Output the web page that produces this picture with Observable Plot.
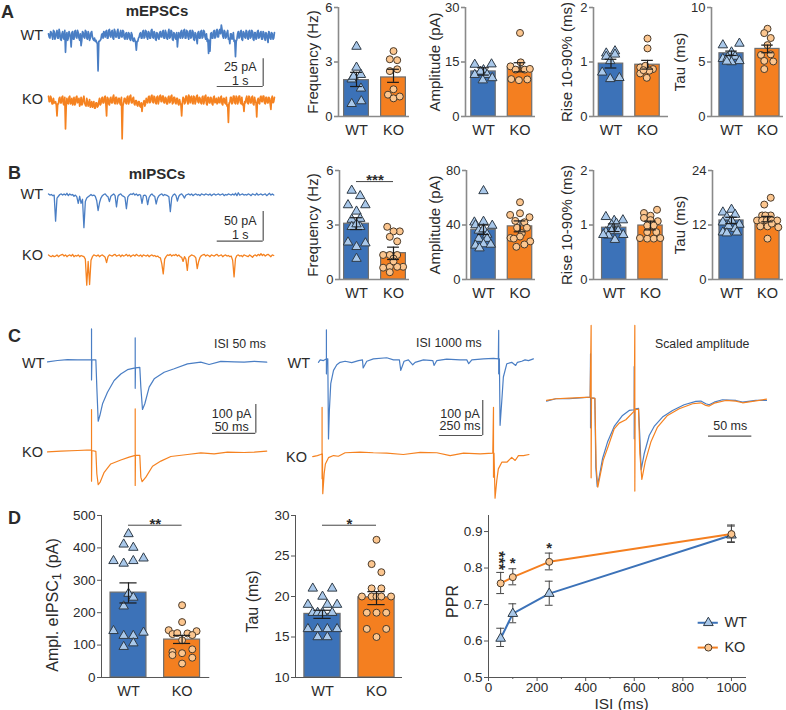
<!DOCTYPE html>
<html><head><meta charset="utf-8">
<script src="https://cdn.jsdelivr.net/npm/d3@7"></script>
<script src="https://cdn.jsdelivr.net/npm/@observablehq/plot@0.6"></script>
<style>
html,body{margin:0;padding:0;background:#fff}
#fig{position:relative;width:786px;height:710px;overflow:hidden;font-family:"Liberation Sans",Arial,sans-serif;color:#2b2b2b}
#fig svg{position:absolute;overflow:visible;background:transparent;max-width:none}
.t{position:absolute;white-space:nowrap;line-height:1}
</style></head><body><div id="fig"></div>
<script>
// ---- colours
const blue="#3c72b8", orange="#f47f20", lineBlue="#4a7ec4", lineOrange="#f58220", lightBlue="#a9c8ea", lightOrange="#fcc68f";
const groups=["WT","KO"];

// ---- spontaneous current traces (pA relative to baseline, evenly sampled over the sweep)
const mEPSC_WT_odd=[1,-3,2,-4,3,-2,4,-3,2,-5, 3,-4,-16,2,-3,1,-11,3,-4,4, -3,2,-5,-10,3,-2,4,-3,3,-5, 2,-2,-5,-6,-7,-33,-6,-4,1,3,
-2,4,-3,5,-2,4,-4,3,-2,5, -3,4,-2,3,-4,2,-3,1,-5,0, -6,-5,-14,-6,-2,2,-3,4,-2,3, -4,2,-3,5,-3,2,-5,1,-4,3,
-2,4,-3,2,-4,5,-2,3,-5,1, -4,-11,2,-3,4,-2,5,-3,3,-4, 4,-2,3,-5,1,-8,3,-3,4,-2, 3,-4,-6,-17,-15,2,-3,4,-2,5,
-2,5,9,-1,4,-3,2,-4,-8,1, -3,-6,-20,-4,3,-2,4,-5,2,-3, 3,-4,4,-2,3,-5,2,-3,4,-2, 3,-4,2,-5,1,-7,2,-4,1,-3];
const mEPSC_WT_even=[-2,3,-1,4,-4,2,-3,5,-4,1, -3,4,-1,-5,3,-2,2,-4,3,-2, 4,-3,1,-5,2,-3,3,-4,1,-3, 3,-4,-3,-5,-8,-6,-5,0,-3,2,
3,-3,4,-1,3,-3,5,-2,3,-3, 2,-2,4,-3,1,-4,2,-4,2,-5, -3,-7,-6,-3,1,-3,3,-3,4,-2, 3,-3,4,-2,3,-4,2,-3,2,-2,
3,-3,4,-3,2,-3,4,-4,2,-3, 2,-3,-1,3,-3,4,-3,4,-2,3, -3,4,-4,2,-4,2,-3,3,-3,4, -2,1,-4,-5,1,-3,3,-3,4,-2,
4,1,5,-3,3,-2,4,-3,1,-4, 2,-5,-6,1,-3,3,-4,3,-2,4, -3,3,-3,4,-4,2,-4,3,-3,2, -4,3,-3,2,-4,3,-3,2,-4,2];
const mEPSC_KO_odd=[3,-2,1,-4,-3,-2,-15,-4,2,-3, 3,-5,-27,1,-4,3,-3,-5,2,-4, 3,-2,-6,2,-4,3,-5,1,-6,0, -5,-7,-2,-8,-3,-6,1,-4,2,-3,
3,-15,1,-5,2,-3,4,-4,2,-3, 1,-5,-36,-3,1,-4,3,-2,4,-3, 2,-5,-1,-6,-2,-7,-11,-3,-6,1, -3,3,-2,4,-3,2,-4,3,-1,4,
-2,3,-3,1,-4,3,-2,4,-3,2, -4,1,-5,-3,-15,2,-4,3,-2,4, -3,3,-4,2,-2,4,-3,1,-4,3, -2,4,-5,2,-3,1,-5,3,-2,-4,
2,-3,3,-5,1,-4,-6,-21,-3,2, -3,3,-4,2,-2,3,-4,-5,-11,-3, 3,-4,2,-3,3,-5,-2,-16,1,-4, 3,-2,3,-4,2,-3,1,-9,3,-2];
const mEPSC_KO_even=[-2,3,-4,1,-3,-5,-4,1,-3,2, -4,2,-6,-3,2,-4,1,-3,-5,2, -3,1,-4,-5,1,-3,-6,-2,-4,-7, -2,-5,-8,-3,-7,-2,-5,1,-3,2,
-4,2,-4,1,-3,2,-3,2,-4,1, -4,2,-6,1,-3,2,-4,3,-3,1, -4,-1,-5,-2,-6,-3,-5,-1,-4,-2, 2,-3,3,-2,3,-3,2,-4,3,-2,
3,-3,2,-4,2,-3,3,-4,2,-3, 1,-4,0,-5,-3,1,-3,3,-4,2, 2,-3,3,-4,3,-2,2,-3,2,-4, 3,-4,2,-3,2,-4,2,-3,1,-3,
-2,2,-4,1,-3,2,-5,-3,2,-4, 3,-3,3,-4,3,-3,2,-4,-2,1, -3,3,-3,2,-4,2,-3,-1,-3,2, -2,3,-3,2,-3,2,-4,1,-3,2];
const mIPSC_WT=[1,-1,0,-2,-1,-45,-6,-3,0,1, -1,1,-1,2,-2,1,-1,0,-3,-1, -4,-15,-3,-15,-8,-56,-12,-6,-4,-2, 0,-2,-1,-3,-10,-27,-14,-6,-2,0,
1,-2,-4,-12,-3,-1,1,-2,-21,-3, 0,1,-2,-3,-5,-24,-4,-1,1,0, 2,-1,1,-2,0,-1,-15,-2,-1,-3, -17,-5,-1,1,-2,-3,-16,-6,-2,0,
1,-2,0,-1,-2,-4,-29,-5,-1,1, -2,-11,-3,0,1,-2,-6,-1,0,1, -1,1,-2,0,1,-1,0,-2,1,0, -1,1,0,-1,1,-2,0,1,-1,0,
1,-1,0,1,-2,0,-1,1,0,-1, 1,-1,2,-2,3,-1,0,1,-1,0, -1,1,0,-2,1,0,-1,2,-1,0, 1,-1,0,1,-2,0,2,-1,1,-1];
const mIPSC_KO=[1,-1,-2,0,-2,-1,1,-2,0,1, 2,-1,1,-2,0,1,-1,2,-2,0, -1,1,-2,0,-1,-2,-6,-50,-10,-49, -8,-2,1,0,-1,1,-2,0,1,-1,
-3,-12,-2,1,0,-1,1,2,-1,0, 1,-2,1,-1,0,2,-1,1,-2,0, 1,-1,2,0,-1,1,-2,1,0,-1, 1,-2,0,1,-1,0,-2,-1,-3,-4,
-14,-31,-6,-2,1,0,2,-1,1,0, 2,-1,1,-2,-3,-10,-2,-6,-25,-3, -1,1,0,-1,-4,-22,-10,-3,0,1, 2,-1,1,0,-2,1,0,-1,1,2,
-1,0,1,-2,0,1,-1,0,-2,-1, -8,-36,-5,0,1,-1,0,-2,1,0, -1,-2,1,-1,-3,0,1,-1,2,0, 3,0,2,-1,1,2,0,-2,1,0];

// ---- evoked traces: [time ms, current pA]
const isi50_WT=[[0,-7],[11.5,-2],[23,1],[34.6,0],[50.8,0],[50.8,108],[50.8,-70],[51.2,0],[55.8,0],[56.9,-95],[58.5,-214],[60.4,-194],[63.5,-153],[69.2,-113],[76.9,-72],[84.6,-49],[92.3,-34],[101.2,-28],[101.2,77],[101.2,-99],[101.5,-28],[106.5,-26],[107.7,-95],[109.6,-173],[112.3,-153],[117.3,-95],[123.1,-66],[134.6,-43],[146.2,-31],[161.5,-14],[176.9,-8],[186.5,-16],[200,-5],[215.4,-7],[226.9,-8],[238.5,-5],[253,-8]];
const isi50_KO=[[0,-5],[15.4,-2],[34.6,0],[50.8,2],[50.8,143],[50.8,-107],[51.2,0],[55.8,-3],[56.9,-81],[58.5,-119],[60.8,-110],[65.4,-76],[73,-47],[84.6,-33],[94.2,-23],[101.2,-17],[101.2,145],[101.2,-122],[101.5,-17],[106.5,-17],[107.7,-93],[109.2,-109],[113.5,-93],[121.2,-55],[130.8,-37],[142.3,-21],[161.5,-14],[176.9,-8],[192.3,-12],[207.7,-6],[226.9,-7],[238.5,-6],[253,-2]];
const isi1000_WT=[[0,-10],[10,-3],[29,-5],[42,-1],[46,0],[46,83],[46,-43],[48,0],[54,0],[58,-229],[63,-148],[71,-71],[87,-33],[106,-17],[125,-10],[154,-7],[192,-11],[231,-5],[254,-3],[258,-26],[279,-7],[317,0],[394,3],[433,-3],[467,-3],[475,-33],[494,-7],[519,-3],[544,-17],[558,-10],[606,-3],[660,-5],[667,-19],[683,-5],[740,-1],[817,-3],[856,-3],[867,-14],[885,-3],[952,0],[1010,1],[1038,0],[1040,81],[1040,-43],[1044,0],[1048,-190],[1058,-119],[1067,-52],[1087,-14],[1115,-10],[1138,-19],[1148,-10],[1173,-7],[1192,-3],[1212,-5],[1240,0]];
const isi1000_KO=[[-33,-8],[-6,-5],[13,-2],[21,0],[21,133],[21,-71],[23,0],[25,-114],[33,-57],[40,-29],[58,-11],[87,-5],[115,-7],[154,3],[240,5],[317,3],[394,2],[490,-2],[587,4],[683,3],[760,-5],[837,2],[933,0],[1006,2],[1010,133],[1010,-67],[1013,2],[1019,-127],[1029,-76],[1038,-43],[1058,-24],[1087,-24],[1115,-10],[1135,-19],[1154,-5],[1183,-5],[1215,-2]];
const scaled_WT=[[0,-3.7],[10.8,-1.1],[26.2,-1.1],[50.4,0.7],[50.8,49.3],[50.8,-33.6],[51.2,0],[55.8,-0.7],[56.9,-77.6],[58.5,-99.3],[60.8,-88.8],[64.6,-68.3],[70.4,-49.6],[78.1,-32.1],[87.7,-19.8],[95.4,-14.2],[101.2,-13.4],[101.2,35],[101.2,-45.9],[101.5,-12.7],[106.2,-11.9],[107.7,-44],[109.2,-80.6],[112.7,-62.7],[118.5,-42.2],[124.2,-32.1],[133.8,-21.6],[145.4,-14.2],[158.8,-7.8],[172.3,-4.1],[178.1,-3.7],[183.8,-6.7],[187.7,-7.8],[193.5,-4.9],[203,-2.2],[218.5,-3],[226.2,-4.9],[241.5,-3],[253.8,-3]];
const scaled_KO=[[0,-3],[10.8,-1.1],[26.2,-0.4],[50.4,0.7],[51.5,81],[51.5,-89.6],[51.9,0],[55.8,-0.7],[57.3,-77.6],[59.2,-100],[61.5,-88.8],[65.4,-70.1],[71.5,-53.4],[78.1,-34.7],[83.8,-28.4],[91.5,-24.6],[101.2,-14.9],[101.9,81],[101.9,-104.5],[102.3,-13.4],[106.2,-12.7],[107.7,-62.7],[110,-91.4],[113.8,-72],[120.4,-49.6],[128.1,-32.8],[139.6,-19.8],[153.1,-12.3],[168.5,-6.7],[178.1,-5.6],[183.8,-8.6],[187.7,-9.3],[193.5,-6],[206.9,-3],[218.5,-3.7],[226.2,-5.6],[237.7,-4.1],[253.8,-1.5]];

// ---- panel A points: [offset from bar centre, value]
const aFreqWT=[[0,3.85],[0,2.7],[.12,2.3],[-.13,2.05],[-.08,2.2],[.12,1.55],[-.13,.7],[.13,.85]];
const aFreqKO=[[0,3.6],[-.1,3.15],[.1,3.1],[-.1,2.5],[.1,2.6],[0,1.5],[-.15,1.2],[0,1],[.17,1.1]];
const aAmpWT=[[-.24,14.3],[.22,14.4],[0,12.8],[-.08,12.4],[-.24,11.5],[.1,11.5],[.24,10.6],[-.02,10]];
const aAmpKO=[[0,23],[-.26,13.8],[.02,14.9],[-.12,12.9],[.13,12.9],[.27,13.1],[-.24,10.3],[-.03,10],[.2,10.2]];
const aRiseWT=[[-.13,1.16],[.11,1.2],[-.13,1.1],[-.02,1.02],[.11,1.14],[-.24,.81],[-.02,.69],[.23,.71]];
const aRiseKO=[[0,1.43],[0,1.25],[-.2,.9],[-.06,.93],[.15,.87],[-.2,.79],[-.02,.71],[.05,.84],[-.11,.85]];
const aTauWT=[[-.24,6.55],[.22,6.7],[0,5.9],[-.24,5.3],[-.11,5.4],[.1,5.5],[.22,5.1],[0,5],[-.13,5.05]];
const aTauKO=[[0,8.05],[-.09,7.65],[.09,7.2],[0,6.55],[-.18,5.65],[.09,5.7],[-.09,5.1],[.16,5.05],[-.09,4.35]];
// ---- panel B points
const bFreqWT=[[-.13,4.9],[.1,4.6],[-.23,4.1],[.24,4.1],[0,3.75],[-.13,3.3],[.1,3.35],[-.13,2.9],[.1,2.9],[0,3.05],[-.23,2.05],[.24,2],[0,1.8],[0,1.15]];
const bFreqKO=[[-.17,2.9],[.17,2.65],[0,2.65],[-.1,2.35],[.1,2.1],[-.1,1.35],[-.28,1.35],[.1,1.35],[0,1.15],[-.28,.65],[-.1,.7],[.26,.7],[.1,.7],[-.1,.4],[0,1]];
const bAmpWT=[[0,65],[-.25,42],[0,42.5],[.24,39.6],[-.22,40],[-.13,36],[0,37],[.1,33],[-.13,30],[.1,30],[-.22,25],[0,26],[.2,25.7],[-.11,23]];
const bAmpKO=[[0,56.7],[-.27,47.4],[0,48.6],[.26,45.7],[-.13,43],[.12,42],[-.08,38],[.05,34],[.19,38],[-.26,30.5],[0,31.5],[.28,28],[.12,25.7],[-.1,24],[-.17,30]];
const bRiseWT=[[-.23,1.15],[.24,1.09],[0,1.08],[-.07,1],[.06,1.03],[-.23,.87],[-.07,.89],[.11,.89],[.25,.82],[-.16,.81],[.02,.73],[-.3,.82]];
const bRiseKO=[[-.18,1.22],[.18,1.28],[0,1.17],[-.18,1.13],[0,1.09],[.2,1.07],[-.09,.99],[.09,.99],[-.29,.76],[-.09,.75],[.09,.75],[.27,.76],[-.09,.87],[.16,.87]];
const bTauWT=[[-.24,14.8],[0,15.4],[.1,14.3],[-.13,13.7],[-.24,12.6],[0,13],[.22,12.1],[-.08,11.8],[.1,11.2],[-.24,10.4],[-.13,10.2],[.15,10.4]];
const bTauKO=[[.09,18],[-.09,16.5],[-.15,14.1],[.09,14.1],[-.06,14.1],[-.29,13],[-.15,13],[-.02,13],[.12,13],[.27,13],[-.2,11.7],[0,11.7],[.12,12.3],[.3,11.5],[0,9]];
// ---- panel D points
const dAmplWT=[[0,443],[-.09,411],[.09,401],[-.28,360],[-.09,352],[.09,360],[.28,368],[0,259],[.09,247],[-.09,220],[-.28,144],[.28,139],[-.09,129],[.09,129],[.09,106],[-.09,95]];
const dAmplKO=[[0,223],[0,171],[-.25,146],[.27,143],[-.18,134],[-.09,137],[.1,136],[.19,131],[0,115],[.19,87],[-.18,79],[0,75],[-.18,69],[.19,61],[0,43]];
const dTauWT=[[-.18,21],[.18,21],[0,20],[-.27,19],[.09,19],[.27,19],[-.18,18],[-.09,18],[0,18],[.18,18],[-.27,16],[-.09,16],[.09,16],[.27,16],[-.09,15],[.09,15]];
const dTauKO=[[0,27],[-.09,24],[.09,23],[-.09,21],[.09,21],[-.27,20],[-.09,20],[0,20],[.09,20],[.27,20],[-.18,18],[0,18],[.18,18],[-.18,16],[.18,16],[0,15]];
// ---- paired-pulse ratio
const isi=[50,100,250,1000];
const pprWT=[.607,.675,.73,.89], pprWTlo=[.585,.65,.698,.872], pprWThi=[.635,.702,.764,.918];
const pprKO=[.758,.775,.817,.893], pprKOlo=[.73,.754,.795,.87], pprKOhi=[.788,.798,.841,.915];
const pprStars=[[100,.817,"*"],[250,.858,"*"]];
const pprStack=[[50,.826,"***"]];

const fig=document.getElementById("fig");
const font='"Liberation Sans",Arial,sans-serif', ink="#2b2b2b";

function place(plot,left,top){plot.style.left=left+"px";plot.style.top=top+"px";fig.appendChild(plot);}
function label(text,x,y,size,opts={}){
  const d=document.createElement("div");d.className="t";d.textContent=text;
  d.style.fontSize=size+"px";d.style.top=(y-size/2)+"px";
  if(opts.bold)d.style.fontWeight="bold";
  if(opts.anchor==="end"){d.style.right=(786-x)+"px";}
  else if(opts.anchor==="middle"){d.style.left=x+"px";d.style.transform="translateX(-50%)";}
  else d.style.left=x+"px";
  fig.appendChild(d);
}

function barPanel(p){
  const mL=50,mT=10,mB=32,h=p.base-p.top,w=p.end-p.axis;
  const unit=p.ko-p.wt;
  const x0=(p.axis-p.wt)/unit,x1=(p.end-p.wt)/unit;
  const y0=p.dom[0];
  const pts=(arr,g)=>arr.map(([dx,v])=>({x:g+dx,v}));
  const c=p.d?{ax:"#555",w:1}:{ax:"#8a8a8a",w:1.6};
  const marks=[
    Plot.rect(groups,{x1:(d,i)=>i-.335,x2:(d,i)=>i+.335,y1:()=>y0,y2:(d,i)=>p.mean[i],fill:(d,i)=>i?orange:blue,stroke:"#6e6e6e",strokeWidth:1.2}),
    Plot.dot(pts(p.wtPts,0),{x:"x",y:"v",symbol:"triangle",r:3.5,fill:lightBlue,stroke:"#2f3b47",strokeWidth:1}),
    Plot.dot(pts(p.koPts,1),{x:"x",y:"v",r:3.5,fill:lightOrange,stroke:"#4a3a2a",strokeWidth:1}),
    Plot.ruleX([0,1],{x:d=>d,y1:d=>p.lo[d],y2:d=>p.hi[d],stroke:"#1c1c1c",strokeWidth:1.2}),
    Plot.ruleY([0,1],{y:d=>p.lo[d],x1:d=>d-.16,x2:d=>d+.16,stroke:"#1c1c1c",strokeWidth:1.2}),
    Plot.ruleY([0,1],{y:d=>p.hi[d],x1:d=>d-.16,x2:d=>d+.16,stroke:"#1c1c1c",strokeWidth:1.2}),
    Plot.ruleX([x0],{stroke:c.ax,strokeWidth:c.w}),
    Plot.ruleY([y0],{stroke:c.ax,strokeWidth:c.w}),
    Plot.axisY({ticks:p.ticks,tickSize:4,tickPadding:2,stroke:c.ax,fontSize:p.d?13.5:13,tickFormat:d=>String(d),label:null,color:ink,strokeWidth:c.w}),
    Plot.axisX({ticks:[0,1],tickSize:0,tickPadding:8,fontSize:14.5,tickFormat:d=>groups[d],label:null,color:ink})
  ];
  if(p.label) marks.push(Plot.text([p.label],{frameAnchor:"left",textAnchor:"middle",rotate:-90,dx:-p.labelDx,dy:p.labelDy||0,fontSize:p.labelSize||15,fill:ink}));
  if(p.sig){
    marks.push(Plot.ruleY([p.sig.y],{x1:0,x2:1,stroke:"#444",strokeWidth:1}));
    marks.push(Plot.text([p.sig.s],{x:()=>.5,y:()=>p.sig.y,fontSize:15,fill:ink,dy:-1,lineAnchor:"middle",fontWeight:"bold"}));
  }
  const plot=Plot.plot({width:mL+w,height:mT+mB+h,marginLeft:mL,marginRight:0,marginTop:mT,marginBottom:mB,
    x:{type:"linear",domain:[x0,x1]},y:{domain:p.dom},style:{fontFamily:font,background:"transparent"},marks});
  place(plot,p.axis-mL,p.top-mT);
}

function tracePanel(p){
  const w=p.box[2],h=p.box[3];
  const marks=[];
  for(const s of p.series){
    marks.push(Plot.line(s.data,{x:d=>d[0],y:d=>d[1]+(s.off||0),stroke:s.color,strokeWidth:s.sw||1.2}));
  }
  const sb=p.bar;
  marks.push(Plot.ruleY([sb.y1],{x1:sb.x1,x2:sb.x2,stroke:"#555",strokeWidth:1.2}));
  if(sb.y2!=null)marks.push(Plot.ruleX([sb.x2],{y1:sb.y1,y2:sb.y2,stroke:"#555",strokeWidth:1.2}));
  for(const t of sb.text)marks.push(Plot.text([t[0]],{x:()=>sb.tx,y:()=>t[1],fontSize:12.5,fill:ink}));
  const plot=Plot.plot({width:w,height:h,margin:0,x:{type:"linear",domain:p.x,axis:null},y:{domain:p.y,axis:null},
    style:{fontFamily:font,background:"transparent"},marks});
  place(plot,p.box[0],p.box[1]);
}
const sweep=(arr,dur)=>arr.map((v,i)=>[i*dur/arr.length,v]);
const mEPSC_WT=d3.merge(d3.zip(mEPSC_WT_odd,mEPSC_WT_even));
const mEPSC_KO=d3.merge(d3.zip(mEPSC_KO_odd,mEPSC_KO_even));

// ---- panel A & B traces
tracePanel({box:[48.33,15,226.67,130],x:[0,4.93],y:[-101.3,17.7],
  series:[{data:sweep(mEPSC_WT,4.93),color:lineBlue,sw:1.7},{data:sweep(mEPSC_KO,4.93),color:lineOrange,off:-59.2,sw:1.7}],
  bar:{x1:3.67,x2:4.67,y1:-47.3,y2:-22,tx:4.17,text:[["25 pA",-29.9],["1 s",-42.7]]}});
tracePanel({box:[48.33,165,226.67,130],x:[0,4.93],y:[-170.3,48.9],
  series:[{data:sweep(mIPSC_WT,4.93),color:lineBlue,sw:1.3},{data:sweep(mIPSC_KO,4.93),color:lineOrange,off:-102.9,sw:1.3}],
  bar:{x1:3.67,x2:4.67,y1:-78.7,y2:-28.7,tx:4.17,text:[["50 pA",-45.5],["1 s",-69]]}});
// ---- panel C traces
tracePanel({box:[46.67,325,225.33,165],x:[0,260],y:[-455.5,120],
  series:[{data:isi50_WT,color:lineBlue},{data:isi50_KO,color:lineOrange,off:-316}],
  bar:{x1:190.4,x2:240.4,y1:-256,y2:-156,tx:212.5,text:[["100 pA",-188],["50 ms",-233]]}});
tracePanel({box:[311.4,325,223.6,180],x:[-40,1250],y:[-419,95.2],
  series:[{data:isi1000_WT,color:lineBlue},{data:isi1000_KO,color:lineOrange,off:-271.4}],
  bar:{x1:698,x2:948,y1:-219,y2:-119,tx:817,text:[["100 pA",-157],["250 ms",-193]]}});
tracePanel({box:[545.67,322,221.9,173],x:[0,256],y:[-109.4,84.3],
  series:[{data:scaled_WT,color:lineBlue},{data:scaled_KO,color:lineOrange}],
  bar:{x1:186.9,x2:236.9,y1:-42.9,tx:212,text:[["50 ms",-32]]}});

// ---- bar panels, row A
const rowA={top:7,base:116};
barPanel({...rowA,axis:338,wt:356,ko:393,end:409,dom:[0,6],ticks:[0,3,6],label:"Frequency (Hz)",labelDx:25,mean:[2,2.15],lo:[1.65,1.88],hi:[2.43,2.6],wtPts:aFreqWT,koPts:aFreqKO});
barPanel({...rowA,axis:465,wt:483,ko:519.5,end:535,dom:[0,30],ticks:[0,15,30],label:"Amplitude (pA)",labelDx:30,mean:[12.4,13.5],lo:[11.4,12.3],hi:[13.4,14.8],wtPts:aAmpWT,koPts:aAmpKO});
barPanel({...rowA,axis:593,wt:610.5,ko:647,end:668,dom:[0,2],ticks:[0,1,2],label:"Rise 10-90% (ms)",labelDx:26,labelSize:15,mean:[.97,.95],lo:[.89,.87],hi:[1.05,1.03],wtPts:aRiseWT,koPts:aRiseKO});
barPanel({...rowA,axis:711,wt:731,ko:767,end:783,dom:[0,10],ticks:[0,5,10],label:"Tau (ms)",labelDx:31,mean:[5.8,6.2],lo:[5.6,5.85],hi:[6,6.55],wtPts:aTauWT,koPts:aTauKO});
// ---- bar panels, row B
const rowB={top:170,base:279};
barPanel({...rowB,axis:339,wt:356,ko:393,end:409,dom:[0,6],ticks:[0,3,6],label:"Frequency (Hz)",labelDx:26,mean:[3.07,1.45],lo:[2.75,1.1],hi:[3.4,1.78],wtPts:bFreqWT,koPts:bFreqKO,sig:{y:5.39,s:"***"}});
barPanel({...rowB,axis:466,wt:483,ko:519.5,end:535,dom:[0,80],ticks:[0,40,80],label:"Amplitude (pA)",labelDx:31,mean:[36.5,39],lo:[33,35],hi:[40,43],wtPts:bAmpWT,koPts:bAmpKO});
barPanel({...rowB,axis:593,wt:613.7,ko:650,end:668,dom:[0,2],ticks:[0,1,2],label:"Rise 10-90% (ms)",labelDx:26,mean:[.95,.99],lo:[.88,.91],hi:[1.02,1.07],wtPts:bRiseWT,koPts:bRiseKO});
barPanel({...rowB,axis:712,wt:731,ko:767,end:783,dom:[0,24],ticks:[0,12,24],label:"Tau (ms)",labelDx:32,mean:[13,13.3],lo:[12.3,12.7],hi:[13.7,13.9],wtPts:bTauWT,koPts:bTauKO});
// ---- bar panels, row D
const rowD={top:514.7,base:676.7,d:true};
barPanel({...rowD,axis:100.7,wt:127.7,ko:181.3,end:209,dom:[0,500],ticks:[0,100,200,300,400,500],mean:[262,117],lo:[230,105],hi:[292,130],wtPts:dAmplWT,koPts:dAmplKO,sig:{y:470,s:"**"}});
barPanel({...rowD,axis:295,wt:322,ko:376,end:402,dom:[10,30],ticks:[10,15,20,25,30],label:"Tau (ms)",labelDx:43,labelDy:5,labelSize:16,mean:[17.85,19.9],lo:[17.3,19],hi:[18.3,20.6],wtPts:dTauWT,koPts:dTauKO,sig:{y:28.8,s:"*"}});

// ---- paired-pulse plot
(function(){
  const mL=50,mT=10,mB=34,wt=isi.map((x,i)=>({x,y:pprWT[i],lo:pprWTlo[i],hi:pprWThi[i]})),ko=isi.map((x,i)=>({x,y:pprKO[i],lo:pprKOlo[i],hi:pprKOhi[i]}));
  const cap=16,ax="#555";
  const errs=s=>[
    Plot.ruleX(s,{x:"x",y1:"lo",y2:"hi",stroke:"#444",strokeWidth:1}),
    Plot.ruleY(s,{y:"lo",x1:d=>d.x-cap,x2:d=>d.x+cap,stroke:"#444",strokeWidth:1}),
    Plot.ruleY(s,{y:"hi",x1:d=>d.x-cap,x2:d=>d.x+cap,stroke:"#444",strokeWidth:1})];
  const tri={symbol:"triangle",r:3.6,fill:lightBlue,stroke:"#2f3b47",strokeWidth:1};
  const cir={r:3.5,fill:lightOrange,stroke:"#4a3a2a",strokeWidth:1};
  const plot=Plot.plot({width:mL+258,height:mT+mB+162,marginLeft:mL,marginRight:0,marginTop:mT,marginBottom:mB,
    x:{type:"linear",domain:[0,1062]},y:{type:"linear",domain:[.5,.944]},style:{fontFamily:font,background:"transparent"},
    marks:[
      Plot.ruleX([0],{stroke:ax}),Plot.ruleY([.5],{stroke:ax}),
      Plot.axisY({ticks:[.5,.6,.7,.8,.9],tickSize:4,tickPadding:2,tickFormat:d3.format(".1f"),fontSize:13.5,label:null,color:ink,stroke:ax}),
      Plot.axisX({ticks:[0,200,400,600,800,1000],tickSize:4,tickPadding:1,tickFormat:d=>String(d),fontSize:13.5,label:null,color:ink,stroke:ax}),
      Plot.axisX({ticks:[100,300,500,700,900],tickSize:2,tickFormat:()=>"",label:null,stroke:ax}),
      Plot.text(["PPR"],{frameAnchor:"left",textAnchor:"middle",rotate:-90,dx:-36,dy:5,fontSize:16,fill:ink}),
      Plot.text(["ISI (ms)"],{frameAnchor:"bottom",dy:31,dx:4,fontSize:15.5,fill:ink,lineAnchor:"bottom"}),
      ...errs(wt),...errs(ko),
      Plot.line(wt,{x:"x",y:"y",stroke:blue,strokeWidth:2}),
      Plot.line(ko,{x:"x",y:"y",stroke:orange,strokeWidth:2}),
      Plot.dot(wt,{x:"x",y:"y",...tri}),
      Plot.dot(ko,{x:"x",y:"y",...cir}),
      Plot.text(pprStars,{x:d=>d[0],y:d=>d[1],text:d=>d[2],fontSize:15,fill:ink,dy:1,fontWeight:"bold"}),
      Plot.text(pprStack,{x:d=>d[0],y:d=>d[1],text:d=>d[2],rotate:90,fontSize:16,fill:ink,dx:-3,dy:2,fontWeight:"bold"}),
      Plot.ruleY([.65],{x1:863,x2:946,stroke:blue,strokeWidth:2}),
      Plot.dot([[905,.65]],{x:d=>d[0],y:d=>d[1],...tri}),
      Plot.ruleY([.582],{x1:863,x2:946,stroke:orange,strokeWidth:2}),
      Plot.dot([[905,.582]],{x:d=>d[0],y:d=>d[1],...cir}),
      Plot.text(groups,{x:()=>971,y:(d,i)=>i?.582:.65,textAnchor:"start",fontSize:14.5,fill:ink})
    ]});
  place(plot,487.7-mL,514.7-mT);
})();

// ---- text labels
[["A",1,12],["B",8,173],["C",8,336],["D",8,518]].forEach(([s,x,y])=>label(s,x,y,18,{bold:true}));
label("mEPSCs",157,10,15,{bold:true,anchor:"middle"});
label("mIPSCs",157,173,15,{bold:true,anchor:"middle"});
[["WT",43,35],["KO",43,99],["WT",43,194],["KO",43,255],["WT",44.5,363],["KO",43,452],["WT",310,363],["KO",307,457]]
  .forEach(([s,x,y])=>label(s,x,y,14.5,{anchor:"end"}));
label("ISI 50 ms",214,344,12.3);
label("ISI 1000 ms",416,343,12.3);
label("Scaled amplitude",655,344,12.3);
// rotated axis title with a true subscript
(function(){
  const d=document.createElement("div");d.className="t";
  d.style.cssText="left:53px;top:605px;font-size:16px;transform:translate(-50%,-50%) rotate(-90deg)";
  d.innerHTML='Ampl. eIPSC<span style="font-size:13px;position:relative;top:3px">1</span> (pA)';
  fig.appendChild(d);
})();
</script></body></html>
